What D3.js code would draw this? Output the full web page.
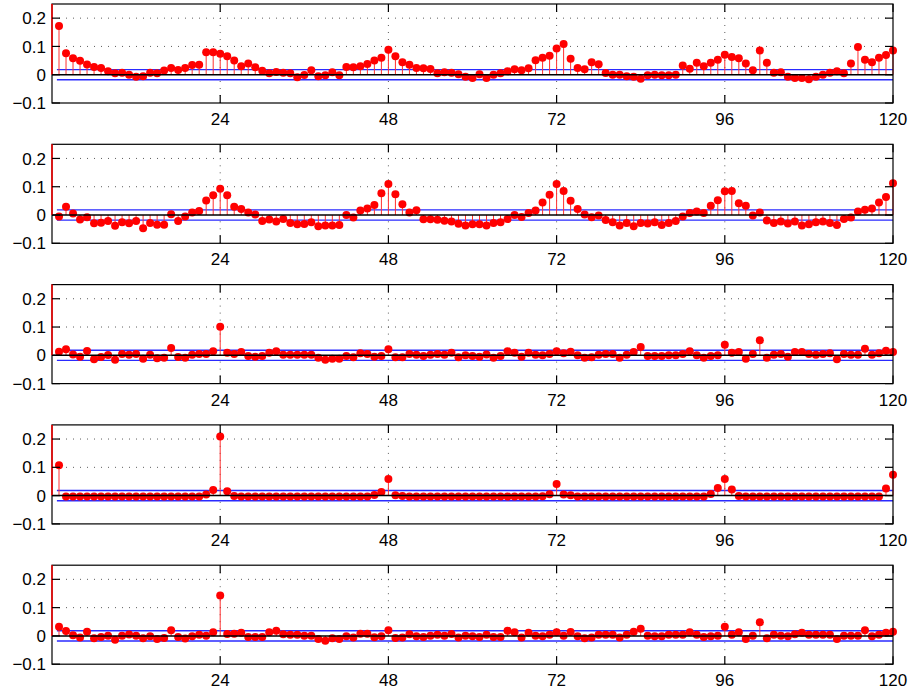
<!DOCTYPE html>
<html lang="en">
<head>
    <meta charset="UTF-8">
    <title>ACF stem plots</title>
    <script src="https://d3js.org/d3.v7.min.js"></script>
    <style>
    body{
        margin: 0;
        background: #fff;
    }
    .tick-label{
        font-family: "Liberation Sans", Arial, Helvetica, sans-serif;
        font-size: 17px;
        fill: #000;
    }
    </style>
</head>
<body>
    <script>
    var width = 911;
    var height = 693;

    // lags shown on the x axis
    var lags = d3.range(1, 121);
    var xTicks = [24, 48, 72, 96, 120];
    var yTicks = [-0.1, 0, 0.1, 0.2];
    var yTickLabels = ["\u22120.1", "0", "0.1", "0.2"];
    var confBound = 0.018;

    // autocorrelation values, one array per panel
    var acf1 = [
        0.172, 0.076, 0.058, 0.049, 0.036, 0.027, 0.024, 0.012, 0.005, 0.007, 0.000, -0.007,
        -0.005, 0.007, 0.005, 0.015, 0.024, 0.017, 0.024, 0.034, 0.035, 0.079, 0.079, 0.074,
        0.065, 0.050, 0.030, 0.040, 0.026, 0.014, 0.005, 0.010, 0.007, 0.005, -0.009, -0.001,
        0.016, -0.005, -0.002, 0.009, -0.002, 0.027, 0.026, 0.030, 0.038, 0.050, 0.060, 0.088,
        0.065, 0.044, 0.035, 0.024, 0.023, 0.020, 0.005, 0.009, 0.007, 0.002, -0.007, -0.012,
        0.002, -0.012, 0.000, 0.005, 0.012, 0.019, 0.016, 0.023, 0.051, 0.060, 0.067, 0.093,
        0.109, 0.056, 0.024, 0.019, 0.044, 0.037, 0.006, 0.000, 0.000, -0.005, -0.007, -0.014,
        -0.002, 0.000, -0.002, -0.002, 0.000, 0.033, 0.021, 0.042, 0.030, 0.042, 0.053, 0.071,
        0.063, 0.058, 0.040, 0.016, 0.086, 0.042, 0.007, 0.009, -0.007, -0.012, -0.012, -0.016,
        -0.007, 0.000, 0.007, 0.012, 0.005, 0.040, 0.098, 0.053, 0.044, 0.060, 0.070, 0.086
    ];
    var acf2 = [
        -0.005, 0.029, 0.005, -0.016, -0.008, -0.029, -0.027, -0.021, -0.038, -0.026, -0.029, -0.021,
        -0.047, -0.028, -0.034, -0.034, 0.003, -0.021, -0.005, 0.009, 0.014, 0.051, 0.070, 0.093,
        0.070, 0.029, 0.021, 0.009, 0.002, -0.021, -0.016, -0.023, -0.014, -0.028, -0.033, -0.032,
        -0.026, -0.040, -0.037, -0.037, -0.035, 0.000, -0.009, 0.016, 0.023, 0.035, 0.077, 0.110,
        0.073, 0.038, 0.009, 0.017, -0.015, -0.015, -0.017, -0.020, -0.023, -0.031, -0.037, -0.033,
        -0.033, -0.037, -0.028, -0.026, -0.014, 0.000, -0.007, 0.007, 0.016, 0.044, 0.072, 0.110,
        0.085, 0.050, 0.021, 0.002, -0.008, -0.002, -0.018, -0.026, -0.037, -0.028, -0.040, -0.028,
        -0.030, -0.026, -0.035, -0.028, -0.021, -0.005, 0.007, 0.012, 0.007, 0.033, 0.052, 0.084,
        0.085, 0.042, 0.033, -0.002, 0.009, -0.019, -0.028, -0.023, -0.030, -0.023, -0.037, -0.033,
        -0.026, -0.023, -0.028, -0.035, -0.014, -0.009, 0.012, 0.019, 0.023, 0.044, 0.064, 0.112
    ];
    var acf3 = [
        0.013, 0.021, 0.003, -0.005, 0.015, -0.014, -0.006, 0.001, -0.016, 0.005, 0.002, 0.005,
        -0.012, 0.002, -0.010, -0.009, 0.026, -0.006, -0.009, 0.002, 0.005, 0.005, 0.014, 0.101,
        0.009, 0.005, 0.012, -0.002, -0.005, -0.002, 0.009, 0.014, 0.002, 0.002, 0.002, 0.002,
        0.002, -0.009, -0.016, -0.012, -0.012, -0.002, -0.007, 0.007, 0.005, -0.005, -0.002, 0.021,
        -0.007, -0.007, 0.005, 0.002, -0.002, 0.002, 0.005, 0.002, 0.009, -0.007, 0.000, -0.002,
        -0.005, 0.003, -0.009, -0.002, 0.014, 0.009, -0.005, 0.009, 0.002, 0.000, 0.005, 0.014,
        0.007, 0.013, 0.000, -0.009, -0.007, 0.002, 0.005, 0.005, -0.009, 0.002, 0.012, 0.029,
        -0.002, -0.002, -0.002, 0.000, 0.000, 0.005, 0.014, 0.000, -0.009, -0.002, 0.000, 0.037,
        0.009, 0.012, -0.012, 0.005, 0.053, -0.009, 0.002, 0.005, -0.005, 0.012, 0.012, 0.005,
        0.002, 0.005, 0.007, -0.014, 0.005, 0.002, 0.002, 0.023, 0.002, 0.007, 0.016, 0.012
    ];
    var acf4 = [
        0.107, -0.003, -0.003, -0.003, -0.003, -0.003, -0.003, -0.003, -0.003, -0.003, -0.003, -0.003,
        -0.003, -0.003, -0.003, -0.003, -0.003, -0.003, -0.003, -0.003, -0.003, 0.004, 0.020, 0.209,
        0.015, -0.001, -0.003, -0.003, -0.003, -0.003, -0.003, -0.003, -0.003, -0.003, -0.003, -0.003,
        -0.003, -0.003, -0.003, -0.003, -0.003, -0.003, -0.003, -0.003, -0.003, 0.002, 0.013, 0.059,
        0.001, -0.001, -0.003, -0.003, -0.003, -0.003, -0.003, -0.003, -0.003, -0.003, -0.003, -0.003,
        -0.003, -0.003, -0.003, -0.003, -0.003, -0.003, -0.003, -0.003, -0.003, -0.002, 0.005, 0.041,
        0.004, 0.001, -0.003, -0.003, -0.003, -0.003, -0.003, -0.003, -0.003, -0.003, -0.003, -0.003,
        -0.003, -0.003, -0.003, -0.003, -0.003, -0.003, -0.003, -0.003, -0.003, 0.006, 0.027, 0.059,
        0.022, -0.001, -0.003, -0.003, -0.003, -0.003, -0.003, -0.003, -0.003, -0.003, -0.003, -0.003,
        -0.003, -0.003, -0.003, -0.003, -0.003, -0.003, -0.003, -0.003, -0.003, -0.003, 0.025, 0.074
    ];
    var acf5 = [
        0.032, 0.017, 0.002, -0.006, 0.015, -0.008, -0.004, 0.001, -0.014, 0.001, 0.005, 0.001,
        -0.008, -0.001, -0.011, -0.007, 0.020, -0.004, -0.009, -0.001, 0.004, 0.001, 0.013, 0.143,
        0.007, 0.008, 0.011, -0.004, -0.004, -0.004, 0.013, 0.018, 0.006, 0.004, 0.004, 0.001,
        0.001, -0.011, -0.017, -0.008, -0.011, -0.001, -0.006, 0.008, 0.008, -0.005, -0.001, 0.020,
        -0.007, -0.006, 0.006, -0.001, -0.004, 0.001, 0.004, 0.001, 0.007, -0.006, 0.001, -0.001,
        -0.004, 0.004, -0.004, -0.004, 0.018, 0.013, -0.006, 0.011, 0.001, -0.001, 0.004, 0.013,
        0.001, 0.014, -0.001, -0.008, -0.006, 0.004, 0.004, 0.004, -0.006, 0.004, 0.015, 0.025,
        0.001, -0.001, -0.001, 0.004, 0.004, 0.004, 0.013, 0.004, -0.004, -0.001, 0.001, 0.032,
        0.004, 0.013, -0.011, 0.001, 0.048, -0.008, 0.004, 0.001, -0.001, 0.006, 0.011, 0.004,
        0.004, 0.004, 0.004, -0.011, 0.001, 0.001, 0.001, 0.020, -0.001, 0.004, 0.011, 0.015
    ];
    var panels = [acf1, acf2, acf3, acf4, acf5];

    // layout
    var left = 52, right = 893;
    var panelTop = 4, panelStep = 140.3, panelH = 99;
    var tickLen = 8;

    var svg = d3.select("body")
        .append("svg")
        .attr("width", width)
        .attr("height", height);

    var xScale = d3.scaleLinear()
        .domain([0, 120])
        .range([left, right]);

    panels.forEach(function(values, p) {
        var top = panelTop + p * panelStep;
        var yScale = d3.scaleLinear()
            .domain([-0.1, 0.25])
            .range([top + panelH, top]);

        var g = svg.append("g").attr("class", "panel");
        var clipId = "clip" + p;
        g.append("clipPath").attr("id", clipId)
            .append("rect")
            .attr("x", left - 1).attr("y", top)
            .attr("width", right - left + 2).attr("height", panelH);

        // dotted grid
        g.selectAll(".vgrid")
            .data(xTicks.filter(function(t) { return t < 120; }))
            .enter().append("line")
            .attr("x1", function(d) { return xScale(d); })
            .attr("x2", function(d) { return xScale(d); })
            .attr("y1", top).attr("y2", top + panelH)
            .attr("stroke", "#333").attr("stroke-width", 0.8)
            .attr("stroke-dasharray", "1,6");
        g.selectAll(".hgrid")
            .data([0.1, 0.2])
            .enter().append("line")
            .attr("x1", left).attr("x2", right)
            .attr("y1", function(d) { return yScale(d); })
            .attr("y2", function(d) { return yScale(d); })
            .attr("stroke", "#333").attr("stroke-width", 0.8)
            .attr("stroke-dasharray", "1,6");

        // confidence bounds
        g.selectAll(".bound")
            .data([confBound, -confBound])
            .enter().append("line")
            .attr("x1", xScale(0.7)).attr("x2", right)
            .attr("y1", function(d) { return yScale(d); })
            .attr("y2", function(d) { return yScale(d); })
            .attr("stroke", "#2a2aff").attr("stroke-width", 1.4);

        var plot = g.append("g").attr("clip-path", "url(#" + clipId + ")");

        // stems
        plot.selectAll(".stem")
            .data(values)
            .enter().append("line")
            .attr("x1", function(d, i) { return xScale(lags[i]); })
            .attr("x2", function(d, i) { return xScale(lags[i]); })
            .attr("y1", yScale(0))
            .attr("y2", function(d) { return yScale(d); })
            .attr("stroke", "#ff3030").attr("stroke-width", 1);

        // markers
        g.selectAll(".dot")
            .data(values)
            .enter().append("circle")
            .attr("cx", function(d, i) { return xScale(lags[i]); })
            .attr("cy", function(d) { return yScale(d); })
            .attr("r", 4)
            .attr("fill", "#ff0000");

        // baseline
        g.append("line")
            .attr("x1", left).attr("x2", right)
            .attr("y1", yScale(0)).attr("y2", yScale(0))
            .attr("stroke", "#000").attr("stroke-width", 1.5);

        // box
        g.append("rect")
            .attr("x", left).attr("y", top)
            .attr("width", right - left).attr("height", panelH)
            .attr("fill", "none").attr("stroke", "#000").attr("stroke-width", 1.2);

        // lag 0 stem (value 1, clipped at the top) over the left axis
        g.append("line")
            .attr("x1", xScale(0)).attr("x2", xScale(0))
            .attr("y1", yScale(0)).attr("y2", Math.max(yScale(1), top))
            .attr("stroke", "#ff0000").attr("stroke-width", 1.5);

        // x ticks (top and bottom, inward)
        xTicks.forEach(function(t) {
            var x = xScale(t);
            g.append("line").attr("x1", x).attr("x2", x)
                .attr("y1", top + panelH).attr("y2", top + panelH - tickLen)
                .attr("stroke", "#000").attr("stroke-width", 1.2);
            g.append("line").attr("x1", x).attr("x2", x)
                .attr("y1", top).attr("y2", top + tickLen)
                .attr("stroke", "#000").attr("stroke-width", 1.2);
            g.append("text").attr("class", "tick-label")
                .attr("x", x).attr("y", top + panelH + 22)
                .attr("text-anchor", "middle")
                .text(t);
        });

        // y ticks (left and right, inward)
        yTicks.forEach(function(t, i) {
            var y = yScale(t);
            g.append("line").attr("x1", left).attr("x2", left + tickLen)
                .attr("y1", y).attr("y2", y)
                .attr("stroke", "#000").attr("stroke-width", 1.2);
            g.append("line").attr("x1", right).attr("x2", right - tickLen)
                .attr("y1", y).attr("y2", y)
                .attr("stroke", "#000").attr("stroke-width", 1.2);
            g.append("text").attr("class", "tick-label")
                .attr("x", left - 6).attr("y", y)
                .attr("dy", "0.36em")
                .attr("text-anchor", "end")
                .text(yTickLabels[i]);
        });
    });
    </script>
</body>
</html>
